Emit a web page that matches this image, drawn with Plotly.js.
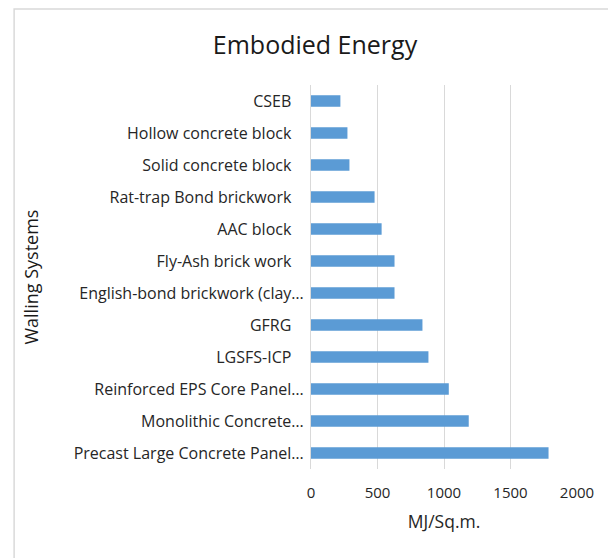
<!DOCTYPE html>
<html>
<head>
<meta charset="utf-8">
<script src="https://cdn.plot.ly/plotly-3.0.1.min.js"></script>
<style>
  html, body { margin: 0; padding: 0; background: #ffffff; }
  #chart { width: 608px; height: 558px; }
</style>
</head>
<body>
<div id="chart"></div>
<script>
// Walling systems, listed top to bottom as drawn
const categories = [
  "CSEB",
  "Hollow concrete block",
  "Solid concrete block",
  "Rat-trap Bond brickwork",
  "AAC block",
  "Fly-Ash brick work",
  "English-bond brickwork (clay\u2026",
  "GFRG",
  "LGSFS-ICP",
  "Reinforced EPS Core Panel\u2026",
  "Monolithic Concrete\u2026",
  "Precast Large Concrete Panel\u2026"
];

// Embodied energy, MJ per square metre
const energyValues = [221, 274, 289, 478, 531, 628, 628, 838, 883, 1036, 1186, 1786];

const xTicks = [0, 500, 1000, 1500, 2000];

// Full labels sit a little further from the axis than the clipped ones
const tickLabels = categories.map(c => c.endsWith("\u2026") ? c : c + "\u00a0\u00a0\u00a0");

const FONT = "'Open Sans', Lato, sans-serif";
const GRID = "#d9d9d9";

const trace = {
  type: "bar",
  orientation: "h",
  y: categories,
  x: energyValues,
  marker: { color: "#5b9bd5", line: { width: 0 } },
  hoverinfo: "x+y"
};

// Chart frame and plot area, in pixels
const W = 608, H = 558;
const mL = 310.5, mR = 30.5, mT = 85, mB = 89;
const plotW = W - mL - mR, plotH = H - mT - mB;
const px = v => (v - mL) / plotW;
const py = v => (H - mB - v) / plotH;

const layout = {
  width: W,
  height: H,
  margin: { l: mL, r: mR, t: mT, b: mB, pad: 0 },
  paper_bgcolor: "#ffffff",
  plot_bgcolor: "#ffffff",
  showlegend: false,
  bargap: 0.64,
  font: { family: FONT, color: "#404040" },
  title: {
    text: "Embodied Energy",
    font: { family: FONT, size: 25, color: "#1a1a1a" },
    x: 315 / W, xref: "container", xanchor: "center",
    y: 1 - 45 / H, yref: "container", yanchor: "middle"
  },
  xaxis: {
    range: [0, 2000],
    tickvals: xTicks,
    ticktext: xTicks.map(String),
    showgrid: true,
    gridcolor: GRID,
    gridwidth: 1,
    zeroline: false,
    showline: false,
    ticks: "",
    ticklabelstandoff: 13,
    tickfont: { family: FONT, size: 15, color: "#262626" },
    title: {
      text: "MJ/Sq.m.",
      font: { family: FONT, size: 17.5, color: "#262626" },
      standoff: 14
    },
    fixedrange: true
  },
  yaxis: {
    type: "category",
    autorange: "reversed",
    tickvals: categories,
    ticktext: tickLabels,
    showgrid: false,
    zeroline: false,
    showline: true,
    linecolor: GRID,
    linewidth: 1,
    ticks: "",
    ticklabelstandoff: 3,
    tickfont: { family: FONT, size: 16, color: "#262626" },
    automargin: false,
    fixedrange: true
  },
  annotations: [
    {
      text: "Walling Systems",
      textangle: -90,
      xref: "paper", yref: "paper",
      x: px(29), y: py(277),
      xanchor: "center", yanchor: "middle",
      showarrow: false,
      font: { family: FONT, size: 18, color: "#1a1a1a" }
    }
  ],
  shapes: [
    {
      type: "rect",
      xref: "paper", yref: "paper",
      x0: px(12.5), x1: px(W + 20),
      y0: py(H + 20), y1: py(9),
      line: { color: GRID, width: 1.5 },
      fillcolor: "rgba(0,0,0,0)",
      layer: "below"
    }
  ]
};

Plotly.newPlot("chart", [trace], layout, { displayModeBar: false, staticPlot: true });
</script>
</body>
</html>
